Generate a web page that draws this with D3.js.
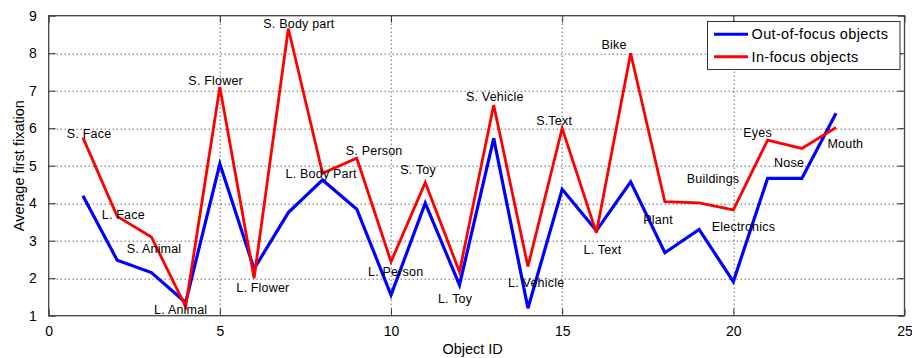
<!DOCTYPE html>
<html>
<head>
<meta charset="utf-8">
<script src="https://cdn.jsdelivr.net/npm/d3@7"></script>
<style>
  body { margin: 0; background: #fff; }
  text { font-family: "Liberation Sans", Arial, sans-serif; fill: #000; }
</style>
</head>
<body>
<div id="chart"></div>
<script>
// object ids on x
var objectIds = [1, 2, 3, 4, 5, 6, 7, 8, 9, 10, 11, 12, 13, 14, 15, 16, 17, 18, 19, 20, 21, 22, 23];
// average first fixation, out-of-focus (blue) and in-focus (red)
var outOfFocus = [4.2, 2.48, 2.15, 1.35, 5.05, 2.25, 3.75, 4.62, 3.84, 1.55, 4.0, 1.82, 5.73, 1.2, 4.37, 3.27, 4.57, 2.68, 3.3, 1.91, 4.66, 4.66, 6.4];
var inFocus = [5.75, 3.65, 3.1, 1.24, 7.1, 2.0, 8.66, 4.8, 5.2, 2.44, 4.55, 2.17, 6.62, 2.31, 6.0, 3.21, 8.0, 4.04, 4.01, 3.82, 5.68, 5.46, 6.02];

var xTicks = [0, 5, 10, 15, 20, 25];
var yTicks = [1, 2, 3, 4, 5, 6, 7, 8, 9];

// annotation labels (text, data x, data y)
var labelText = ["S. Face", "L. Face", "S. Animal", "L. Animal", "S. Flower", "L. Flower", "S. Body part", "L. Body Part",
  "S. Person", "S. Toy", "L. Person", "L. Toy", "S. Vehicle", "L. Vehicle", "S.Text", "L. Text", "Bike", "Plant",
  "Buildings", "Electronics", "Eyes", "Nose", "Mouth"];
var labelX = [0.53, 1.55, 2.28, 3.08, 4.08, 5.48, 6.27, 6.92, 8.68, 10.27, 9.33, 11.37, 12.19, 13.42, 14.24, 15.62, 16.15, 17.37, 18.64, 19.37, 20.29, 21.19, 22.75];
var labelY = [5.85, 3.7, 2.78, 1.17, 7.26, 1.76, 8.8, 4.8, 5.39, 4.89, 2.17, 1.45, 6.84, 1.89, 6.2, 2.75, 8.24, 3.55, 4.66, 3.37, 5.88, 5.09, 5.58];

var seriesNames = ["Out-of-focus objects", "In-focus objects"];
var seriesColors = ["#0000ff", "#ff0000"];

var W = 912, H = 358;
var margin = {left: 48.7, right: 7.5, top: 15.7, bottom: 42.3};
var iw = W - margin.left - margin.right, ih = H - margin.top - margin.bottom;

var svg = d3.select("#chart").append("svg")
    .attr("width", W).attr("height", H);

var x = d3.scaleLinear().domain([0, 25]).range([0, iw]);
var y = d3.scaleLinear().domain([1, 9]).range([ih, 0]);

var g = svg.append("g").attr("transform", "translate(" + margin.left + "," + margin.top + ")");

// dotted grid
g.append("g").attr("class", "grid")
    .selectAll("line.gx").data(xTicks.slice(1, -1)).enter().append("line")
    .attr("x1", function(d) { return Math.round(x(d)) + 0.5; })
    .attr("x2", function(d) { return Math.round(x(d)) + 0.5; })
    .attr("y1", 0).attr("y2", ih);
g.select(".grid")
    .selectAll("line.gy").data(yTicks.slice(1, -1)).enter().append("line")
    .attr("y1", function(d) { return Math.round(y(d)) + 0.5; })
    .attr("y2", function(d) { return Math.round(y(d)) + 0.5; })
    .attr("x1", 0).attr("x2", iw);
g.selectAll(".grid line")
    .attr("stroke", "#222").attr("stroke-width", 1).attr("stroke-dasharray", "1,3");

// axes with inward ticks
var tickLen = 7;
var xAxis = g.append("g").attr("transform", "translate(0," + ih + ")")
    .call(d3.axisBottom(x).tickValues(xTicks).tickSizeInner(-tickLen).tickSizeOuter(0).tickPadding(17));
var yAxis = g.append("g")
    .call(d3.axisLeft(y).tickValues(yTicks).tickSizeInner(-tickLen).tickSizeOuter(0).tickPadding(12));
var xTop = g.append("g")
    .call(d3.axisTop(x).tickValues(xTicks).tickSizeInner(-tickLen).tickSizeOuter(0).tickFormat(""));
var yRight = g.append("g").attr("transform", "translate(" + iw + ",0)")
    .call(d3.axisRight(y).tickValues(yTicks).tickSizeInner(-tickLen).tickSizeOuter(0).tickFormat(""));

[xAxis, yAxis, xTop, yRight].forEach(function(a) {
    a.select(".domain").remove();
    a.selectAll(".tick line").attr("stroke", "#333");
    a.selectAll(".tick text").attr("font-size", "14px")
        .style("font-family", "'Liberation Sans', Arial, sans-serif").attr("fill", "#000");
});
xAxis.selectAll(".tick text").attr("dy", "0.25em");

// box
g.append("rect").attr("x", 0).attr("y", 0).attr("width", iw).attr("height", ih)
    .attr("fill", "none").attr("stroke", "#444").attr("stroke-width", 1.3);

// lines
var line = d3.line()
    .x(function(d) { return x(d[0]); })
    .y(function(d) { return y(d[1]); });

var blueData = objectIds.map(function(d, i) { return [d, outOfFocus[i]]; });
var redData = objectIds.map(function(d, i) { return [d, inFocus[i]]; });

g.append("path").datum(blueData).attr("d", line)
    .attr("fill", "none").attr("stroke", seriesColors[0]).attr("stroke-width", 3.2)
    .attr("stroke-linejoin", "miter");
g.append("path").datum(redData).attr("d", line)
    .attr("fill", "none").attr("stroke", seriesColors[1]).attr("stroke-width", 2.8)
    .attr("stroke-linejoin", "miter");

// annotations
g.append("g").selectAll("text").data(labelText).enter().append("text")
    .attr("x", function(d, i) { return x(labelX[i]); })
    .attr("y", function(d, i) { return y(labelY[i]); })
    .attr("dy", "0.35em")
    .attr("font-size", "12.5px")
    .attr("letter-spacing", "0.2px")
    .text(function(d) { return d; });

// axis titles
svg.append("text")
    .attr("x", margin.left + x(12.5) - 4).attr("y", 349).attr("dy", "0.35em")
    .attr("text-anchor", "middle").attr("font-size", "14.5px")
    .text("Object ID");
svg.append("text")
    .attr("transform", "translate(19," + (margin.top + ih / 2) + ") rotate(-90)")
    .attr("dy", "0.35em")
    .attr("text-anchor", "middle").attr("font-size", "14.5px")
    .text("Average first fixation");

// legend
var lg = svg.append("g").attr("transform", "translate(707.5,21.5)");
lg.append("rect").attr("width", 192.5).attr("height", 48)
    .attr("fill", "#fff").attr("stroke", "#333").attr("stroke-width", 1);
seriesNames.forEach(function(name, i) {
    var yy = 12.8 + i * 22.4;
    lg.append("line").attr("x1", 6.5).attr("x2", 40.5).attr("y1", yy).attr("y2", yy)
        .attr("stroke", seriesColors[i]).attr("stroke-width", 3);
    lg.append("text").attr("x", 44).attr("y", yy).attr("dy", "0.35em")
        .attr("font-size", "14.5px").attr("letter-spacing", "0.35px")
        .text(name);
});
</script>
</body>
</html>
